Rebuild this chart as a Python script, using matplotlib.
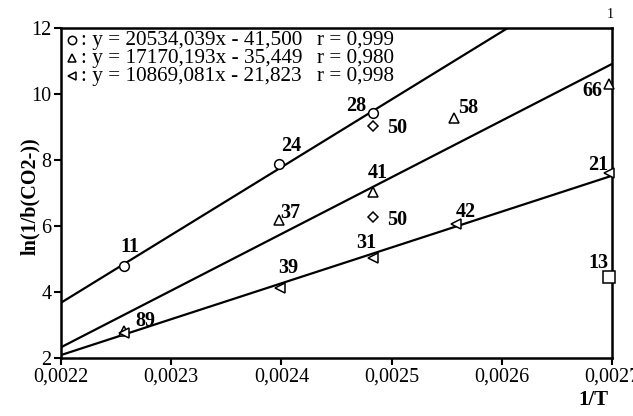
import numpy as np
import matplotlib
matplotlib.use("Agg")
import matplotlib.pyplot as plt

plt.rcParams['font.family'] = ['Liberation Serif', 'DejaVu Serif']

# fitted lines: slope, intercept, r
slopes = [20534.039, 17170.193, 10869.081]
intercepts = [-41.500, -35.449, -21.823]
r_values = ["0,999", "0,980", "0,998"]
eq_texts = [": y = 20534,039x - 41,500", ": y = 17170,193x - 35,449", ": y = 10869,081x - 21,823"]

# points
circ_x = [0.002257, 0.002398, 0.002483]
circ_y = [4.78, 7.87, 9.42]
circ_lab = ["11", "24", "28"]

tri_x = [0.002257, 0.002398, 0.002483, 0.002557, 0.002697]
tri_y = [2.82, 6.18, 7.03, 9.27, 10.3]
tri_lab = ["", "37", "41", "58", "66"]

ltri_x = [0.002257, 0.002399, 0.002483, 0.002558, 0.002697]
ltri_y = [2.75, 4.12, 5.03, 6.06, 7.6]
ltri_lab = ["89", "39", "31", "42", "21"]

dia_x = [0.002483, 0.002483]
dia_y = [9.03, 6.27]
dia_lab = ["50", "50"]

sq_x = [0.002697]
sq_y = [4.45]
sq_lab = ["13"]

xticks = [0.0022, 0.0023, 0.0024, 0.0025, 0.0026, 0.0027]
xtick_labels = ["0,0022", "0,0023", "0,0024", "0,0025", "0,0026", "0,0027"]
yticks = [2, 4, 6, 8, 10, 12]

# label offsets in pixels
circ_off = [(6, 19), (12, 18), (-17, 7)]
tri_off = [(0, 0), (11, 7), (5, 19), (14, 10), (-16, -7)]
ltri_off = [(22, 12), (8, 20), (-7, 15), (10, 12), (-11, 8)]
dia_off = [(24, -2), (24, -3)]
sq_off = [(-10, 14)]

fig = plt.figure(figsize=(6.33, 4.16), dpi=100)
ax = fig.add_axes([61/633, 1-358/416, 551/633, 330/416])

xs = np.array([0.0022, 0.0027])
for s, b in zip(slopes, intercepts):
    ax.plot(xs, s*xs + b, color='black', lw=1.6)

mk = dict(color='black', mfc='white', ls='none', clip_on=False, zorder=3)
ax.plot(circ_x, circ_y, marker='o', ms=7, mew=1.1, **mk)
ax.plot(tri_x, tri_y, marker='^', ms=7, mew=1.1, **mk)
ax.plot(ltri_x, ltri_y, marker='<', ms=7, mew=1.1, **mk)
ax.plot(dia_x, dia_y, marker='D', ms=5, mew=1.1, **mk)
ax.plot(sq_x, sq_y, marker='s', ms=8, mew=1.1, **mk)

groups = [(circ_x, circ_y, circ_lab, circ_off), (tri_x, tri_y, tri_lab, tri_off),
          (ltri_x, ltri_y, ltri_lab, ltri_off), (dia_x, dia_y, dia_lab, dia_off),
          (sq_x, sq_y, sq_lab, sq_off)]
for gx, gy, gl, go in groups:
    for x, y, l, o in zip(gx, gy, gl, go):
        if l:
            ax.annotate(l, (x, y), xytext=o, textcoords='offset pixels',
                        ha='center', va='center', fontsize=14.5, fontweight='bold')

# legend block
leg_markers = ['o', '^', '<']
for i, (m, t, r) in enumerate(zip(leg_markers, eq_texts, r_values)):
    yy = 1 - (12 + 18*i)/330
    ax.plot([11/551], [yy], marker=m, ms=6, mew=1.1, color='black', mfc='white',
            transform=ax.transAxes, clip_on=False)
    ax.text(20/551, yy, t, transform=ax.transAxes, fontsize=15.3, va='center', ha='left')
    ax.text(256/551, yy, "r = " + r, transform=ax.transAxes, fontsize=15.3, va='center', ha='left')

ax.set_xlim(0.0022, 0.0027)
ax.set_ylim(2, 12)
ax.set_xticks(xticks)
ax.set_xticklabels(xtick_labels)
ax.set_yticks(yticks)
ax.tick_params(direction='out', length=5, width=1.5, labelsize=14.5, pad=2)
for sp in ax.spines.values():
    sp.set_linewidth(1.8)

fig.text(30/633, 1-196/416, "ln(1/b(CO2-))", rotation=90, ha='center', va='center',
         fontsize=14.5, fontweight='bold')
fig.text(593/633, 1-400/416, "1/T", ha='center', va='center', fontsize=15, fontweight='bold')
fig.text(610/633, 1-15/416, "1", ha='center', va='center', fontsize=10)

fig.savefig("out.png", dpi=100)
